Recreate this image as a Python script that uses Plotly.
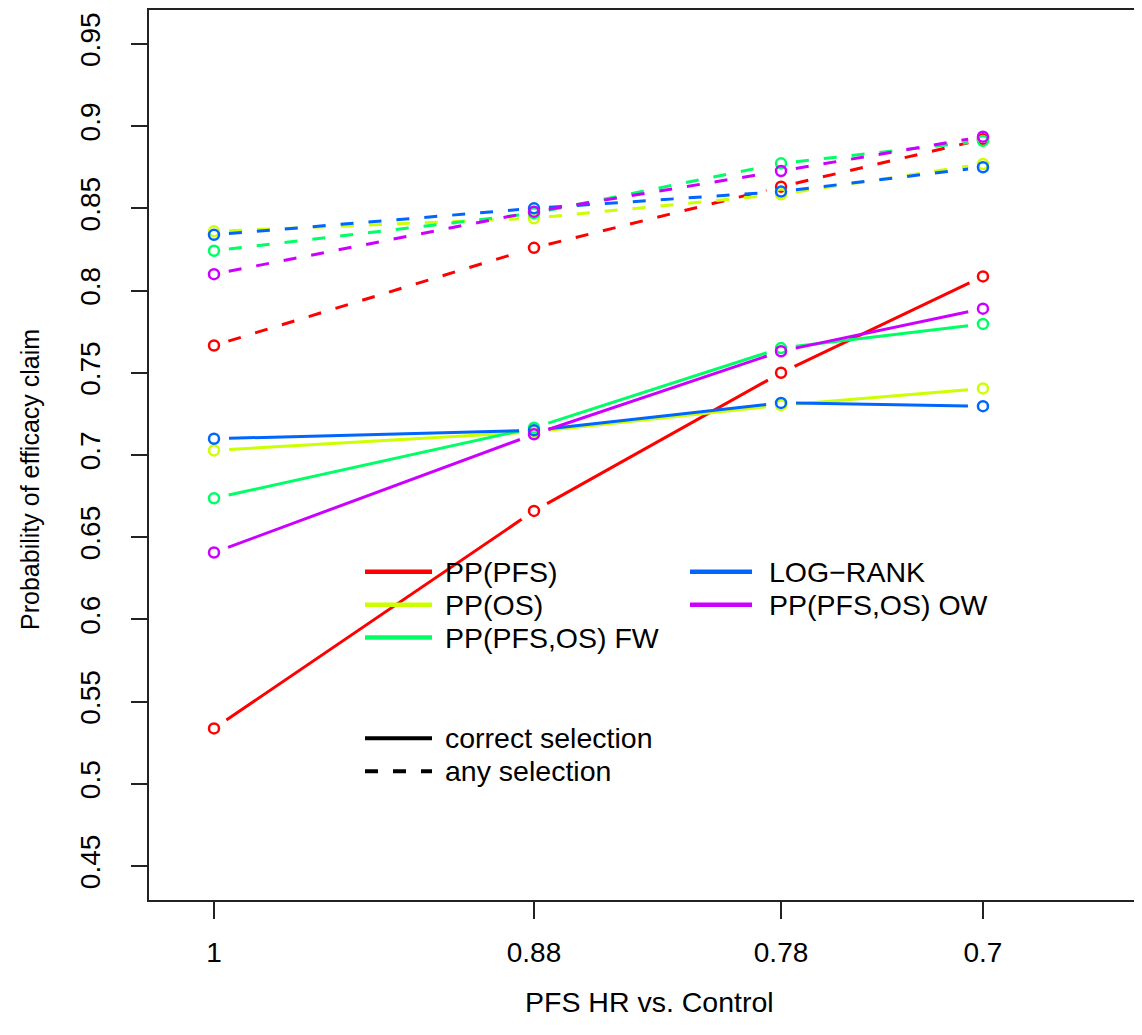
import math
import plotly.graph_objects as go

# ---------------- data ----------------
hr_labels = ["1", "0.88", "0.78", "0.7"]
x_pos = [0.0, 1.0, 1.772, 2.403]          # plotting positions of the HR scenarios

methods = ["PP(PFS)", "PP(OS)", "PP(PFS,OS) FW", "LOG\u2212RANK", "PP(PFS,OS) OW"]
colors = ["#FF0000", "#CCFF00", "#00FF66", "#0066FF", "#CC00FF"]

correct_pfs = [0.5337, 0.666, 0.750, 0.8086]
correct_os = [0.7028, 0.714, 0.7303, 0.7405]
correct_fw = [0.6737, 0.7166, 0.765, 0.7797]
correct_lr = [0.7099, 0.715, 0.7317, 0.7297]
correct_ow = [0.6407, 0.7126, 0.7631, 0.789]

any_pfs = [0.7666, 0.826, 0.8632, 0.892]
any_os = [0.836, 0.844, 0.8586, 0.877]
any_fw = [0.8242, 0.847, 0.8774, 0.891]
any_lr = [0.8339, 0.850, 0.8602, 0.875]
any_ow = [0.810, 0.848, 0.8727, 0.8936]

y_ticks = [0.45, 0.5, 0.55, 0.6, 0.65, 0.7, 0.75, 0.8, 0.85, 0.9, 0.95]

correct_series = [correct_pfs, correct_os, correct_fw, correct_lr, correct_ow]
any_series = [any_pfs, any_os, any_fw, any_lr, any_ow]

# ---------------- layout geometry ----------------
OFF = 8                      # page body margin in the browser
W, H = 1142 - 2 * OFF, 1010
ML, MT = 149 - OFF, 0
PB = 900 - OFF               # bottom of plot area (figure px)
MR = 0
MB = H - PB
PW, PH = W - ML - MR, PB - MT
ppx = 320.0                  # px per x unit
ppy = 1648.0                 # px per y unit
xr = [-(214 - 149) / ppx, -(214 - 149) / ppx + PW / ppx]
yr = [0.45 - (900 - 866) / ppy, 0.45 - (900 - 866) / ppy + PH / ppy]
sx = PW / (xr[1] - xr[0])
sy = PH / (yr[1] - yr[0])
GAP = 15  # px gap between line and point (R type="b")


def gapped(xs, ys):
    gx, gy = [], []
    for i in range(len(xs) - 1):
        x0, y0, x1, y1 = xs[i], ys[i], xs[i + 1], ys[i + 1]
        L = math.hypot((x1 - x0) * sx, (y1 - y0) * sy)
        if L <= 2 * GAP:
            continue
        t = GAP / L
        gx += [x0 + (x1 - x0) * t, x1 - (x1 - x0) * t, None]
        gy += [y0 + (y1 - y0) * t, y1 - (y1 - y0) * t, None]
    return gx, gy


fig = go.Figure()
for dash, series_set in (("13px,15px", any_series), ("solid", correct_series)):
    for name, col, ys in zip(methods, colors, series_set):
        gx, gy = gapped(x_pos, ys)
        fig.add_trace(go.Scatter(x=gx, y=gy, mode="lines", connectgaps=False,
                                 line=dict(color=col, width=3, dash=dash),
                                 showlegend=False, hoverinfo="skip"))
        fig.add_trace(go.Scatter(x=x_pos, y=ys, mode="markers",
                                 marker=dict(symbol="circle-open", size=10, color=col,
                                             line=dict(color=col, width=2.5)),
                                 showlegend=False, name=name))

FONT = "Liberation Sans, Arial, Helvetica, sans-serif"


def pxx(p):  # reference page px -> paper x
    return (p - OFF - ML) / PW


def pxy(p):  # reference page px -> paper y
    return (PB - (p - OFF)) / PH


shapes = []
annotations = []
# legend of methods (2 columns, filled column-wise)
leg_cols = [(365, 432, 443), (690, 752, 767)]
leg_rows = [571, 604, 637]
for i, (name, col) in enumerate(zip(methods, colors)):
    c = i // 3
    r = i % 3
    x0, x1, xt = leg_cols[c]
    yy = leg_rows[r]
    shapes.append(dict(type="line", xref="paper", yref="paper",
                       x0=pxx(x0), x1=pxx(x1), y0=pxy(yy), y1=pxy(yy),
                       line=dict(color=col, width=4.5)))
    annotations.append(dict(text=name, xref="paper", yref="paper", x=pxx(xt), y=pxy(yy),
                            xanchor="left", yanchor="middle", showarrow=False,
                            font=dict(size=28.5, color="black", family=FONT)))
# legend of line types
for txt, dash, yy in (("correct selection", "solid", 738), ("any selection", "13px,15px", 771)):
    shapes.append(dict(type="line", xref="paper", yref="paper",
                       x0=pxx(365), x1=pxx(432), y0=pxy(yy), y1=pxy(yy),
                       line=dict(color="black", width=4, dash=dash)))
    annotations.append(dict(text=txt, xref="paper", yref="paper", x=pxx(443), y=pxy(yy),
                            xanchor="left", yanchor="middle", showarrow=False,
                            font=dict(size=28.5, color="black", family=FONT)))

# axis titles
annotations.append(dict(text="PFS HR vs. Control", xref="paper", yref="paper",
                        x=pxx(649), y=pxy(1002), xanchor="center", yanchor="middle",
                        showarrow=False, font=dict(size=28.5, color="black", family=FONT)))
annotations.append(dict(text="Probability of efficacy claim", xref="paper", yref="paper",
                        x=pxx(30), y=pxy(479), xanchor="center", yanchor="middle",
                        textangle=-90, showarrow=False,
                        font=dict(size=25, color="black", family=FONT)))

fig.update_layout(
    width=W, height=H,
    margin=dict(l=ML, r=MR, t=MT, b=MB, pad=0),
    paper_bgcolor="white", plot_bgcolor="white",
    showlegend=False,
    shapes=shapes, annotations=annotations,
    font=dict(family=FONT, color="black"),
)
fig.update_xaxes(range=xr, tickvals=x_pos, ticktext=hr_labels,
                 showgrid=False, zeroline=False,
                 showline=True, mirror=True, linecolor="#222", linewidth=1.5,
                 ticks="outside", ticklen=17, tickwidth=1.5, tickcolor="#222",
                 tickfont=dict(size=28, family=FONT, color="black"),
                 ticklabelstandoff=10)
fig.update_yaxes(range=yr, tickvals=y_ticks, ticktext=[f"{v:g}" for v in y_ticks],
                 showgrid=False, zeroline=False,
                 showline=True, mirror=False, linecolor="#222", linewidth=1.5,
                 ticks="outside", ticklen=16, tickwidth=1.5, tickcolor="#222",
                 tickangle=-90,
                 tickfont=dict(size=28, family=FONT, color="black"),
                 ticklabelstandoff=20)

fig.write_html("out.html")
